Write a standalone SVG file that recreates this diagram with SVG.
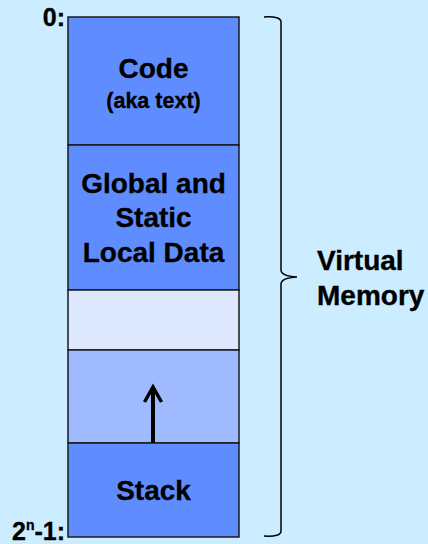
<svg xmlns="http://www.w3.org/2000/svg" width="428" height="544" viewBox="0 0 428 544">
<style>
.t{font-family:"Liberation Sans",Arial,sans-serif;font-weight:bold;fill:#000;stroke:#000;stroke-width:0.35;}
.seg{stroke:#1a1a1a;stroke-width:1.5;}
.dark{fill:#5F8DFF;}
</style>
<rect x="0" y="0" width="428" height="544" fill="#CCECFF"/>
<g id="code">
<rect class="seg dark" x="68" y="17" width="171" height="128"/>
<text class="t" x="153.5" y="78" font-size="28" text-anchor="middle">Code</text>
<text class="t" x="153.5" y="108" font-size="21.5" text-anchor="middle">(aka text)</text>
</g>
<g id="global">
<rect class="seg dark" x="68" y="145" width="171" height="145"/>
<text class="t" x="153.5" y="193" font-size="28" text-anchor="middle">Global and</text>
<text class="t" x="153.5" y="227" font-size="28" text-anchor="middle">Static</text>
<text class="t" x="153.5" y="262" font-size="28" text-anchor="middle">Local Data</text>
</g>
<g id="free">
<rect class="seg" x="68" y="290" width="171" height="60" fill="#DDE8FF"/>
</g>
<g id="growth">
<rect class="seg" x="68" y="350" width="171" height="93" fill="#A0BAFF"/>
</g>
<g id="stack">
<rect class="seg dark" x="68" y="443" width="171" height="94"/>
<text class="t" x="153.5" y="500" font-size="28" text-anchor="middle">Stack</text>
</g>
<g id="connectors">
<line x1="153" y1="443" x2="153" y2="388" stroke="#000" stroke-width="4"/>
<polyline points="144.5,402 153,387 161.5,402" fill="none" stroke="#000" stroke-width="3.5" stroke-linejoin="miter"/>
<path d="M264,17 Q281,16 281,22 L281,270 Q281,276 297,277 Q281,278 281,284 L281,531 Q281,537 264,536" fill="none" stroke="#000" stroke-width="1.5"/>
</g>
<g id="labels">
<text class="t" x="65" y="26" font-size="25" text-anchor="end">0:</text>
<text class="t" x="65" y="540" font-size="25" text-anchor="end">2<tspan font-size="14" dy="-10">n</tspan><tspan dy="10">-1:</tspan></text>
<text class="t" x="317" y="270" font-size="28">Virtual</text>
<text class="t" x="317" y="305" font-size="28">Memory</text>
</g>
</svg>
